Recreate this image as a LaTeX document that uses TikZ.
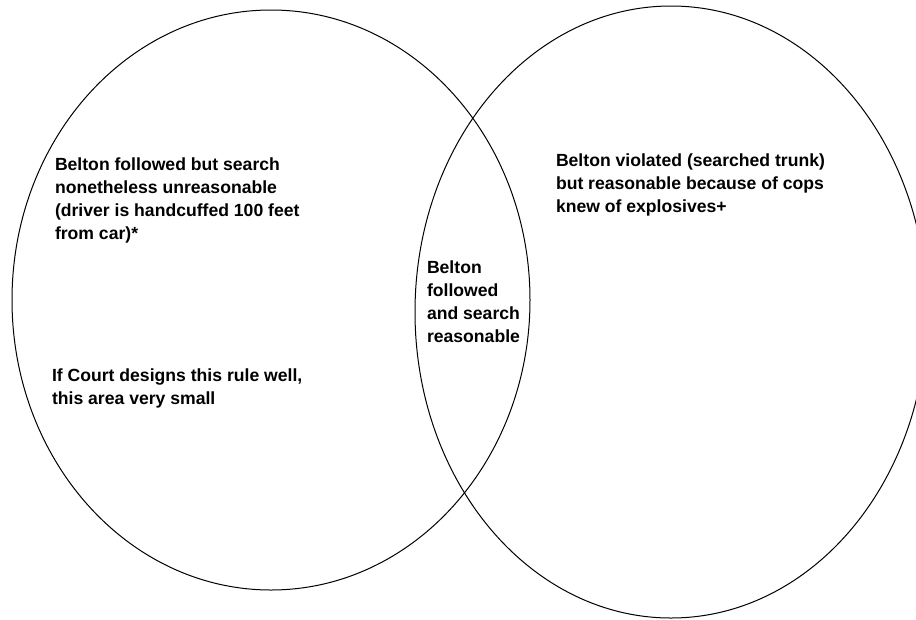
\documentclass[tikz,border=0pt]{standalone}
\usepackage{fontspec}
\setmainfont{Liberation Sans}
\begin{document}
\begin{tikzpicture}[x=1pt,y=-1pt,
  ring/.style={draw=black,line width=1pt},
  label/.style={anchor=north west,inner sep=0pt,outer sep=0pt,align=left,
    font=\bfseries\fontsize{17.6}{23}\selectfont}]
\useasboundingbox[fill=white] (0,0) rectangle (916,619);
\draw[ring] (271,300) ellipse [x radius=259, y radius=290];
\draw[ring] (671,312) ellipse [x radius=256, y radius=306];
\node[label] (lefttop) at (55,158.2) {Belton followed but search\\nonetheless unreasonable\\(driver is handcuffed 100 feet\\from car)*};
\node[label] (leftbot) at (52,369.2) {If Court designs this rule well,\\this area very small};
\node[label] (mid) at (427,261.2) {Belton\\followed\\and search\\reasonable};
\node[label] (right) at (556,154.2) {Belton violated (searched trunk)\\but reasonable because of cops\\knew of explosives+};
\end{tikzpicture}
\end{document}
